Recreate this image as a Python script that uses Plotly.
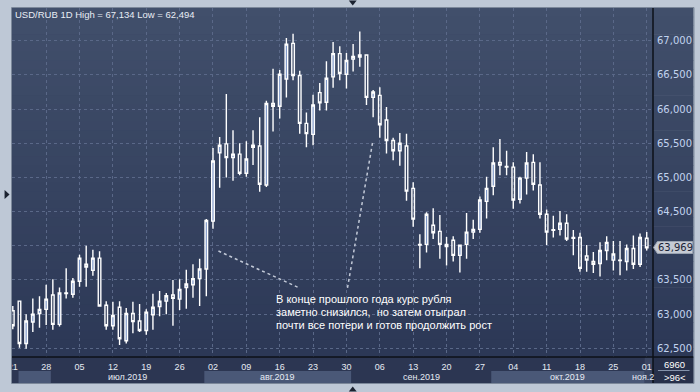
import plotly.graph_objects as go
import pandas as pd

# ---------------- data ----------------
dates = pd.bdate_range("2019-06-21", "2019-11-01")  # 96 daily bars

open_ = [63.05, 63.19, 62.57, 62.885, 63.01, 63.07, 63.28, 62.85, 63.30, 63.29,
         63.48, 63.73, 63.64, 63.82, 63.13, 62.83, 63.10, 62.61, 63.01, 62.90,
         62.76, 62.99, 63.11, 63.19, 63.28, 63.22, 63.39, 63.43, 63.52, 63.66,
         64.36, 65.36, 65.49, 65.29, 65.34, 65.06, 65.44, 65.46, 64.89, 66.08,
         66.04, 66.44, 66.96, 66.49, 65.79, 65.63, 66.24, 66.10, 66.47, 66.81,
         66.51, 66.73, 66.76, 66.79, 66.17, 66.20, 65.84, 65.54, 65.39, 65.46,
         64.84, 64.02, 64.02, 64.30, 64.21, 64.02, 64.08, 63.86, 64.02, 64.20,
         64.24, 64.65, 64.87, 65.22, 65.16, 65.15, 64.68, 64.99, 65.22, 64.89,
         64.46, 64.235, 64.24, 64.33, 64.12, 64.12, 63.85, 63.77, 63.74, 63.93,
         63.79, 63.79, 63.77, 63.96, 63.73, 64.11]
high = [63.12, 63.20, 63.00, 63.23, 63.26, 63.43, 63.51, 63.39, 63.67, 63.53,
        63.87, 64.00, 63.94, 63.92, 63.19, 63.18, 63.19, 63.09, 63.18, 63.15,
        63.07, 63.30, 63.34, 63.31, 63.50, 63.51, 63.65, 63.73, 63.81, 64.39,
        65.43, 65.59, 66.22, 65.69, 65.50, 65.53, 65.69, 65.88, 66.12, 66.59,
        66.57, 67.04, 67.10, 66.56, 65.95, 66.21, 66.38, 66.70, 66.98, 66.92,
        66.82, 66.95, 67.134, 66.80, 66.28, 66.32, 66.03, 65.58, 65.65, 65.64,
        64.93, 64.17, 64.49, 64.55, 64.45, 64.13, 64.14, 64.02, 64.48, 64.38,
        64.72, 65.01, 65.44, 65.56, 65.39, 65.22, 65.01, 65.37, 65.34, 65.22,
        64.53, 64.44, 64.51, 64.46, 64.23, 64.19, 64.01, 63.91, 64.05, 64.14,
        64.07, 64.07, 64.02, 64.15, 64.18, 64.20]
low = [62.78, 62.51, 62.494, 62.74, 62.80, 62.84, 62.77, 62.82, 63.23, 63.24,
       63.40, 63.40, 63.56, 63.11, 62.77, 62.77, 62.55, 62.57, 62.72, 62.74,
       62.70, 62.77, 62.97, 63.00, 62.83, 63.06, 63.08, 63.24, 63.12, 63.26,
       64.25, 64.85, 65.00, 64.95, 65.03, 65.01, 65.18, 64.79, 64.86, 65.67,
       65.86, 66.17, 66.42, 65.64, 65.44, 65.47, 65.98, 65.98, 66.31, 66.42,
       66.30, 66.55, 66.62, 66.06, 65.88, 65.58, 65.35, 65.25, 65.17, 64.66,
       64.28, 63.67, 63.90, 64.10, 63.81, 63.71, 63.77, 63.61, 63.81, 64.10,
       64.19, 64.40, 64.74, 65.03, 65.03, 64.54, 64.62, 64.75, 64.81, 64.40,
       64.01, 64.12, 64.15, 64.07, 63.86, 63.62, 63.62, 63.60, 63.55, 63.79,
       63.64, 63.57, 63.64, 63.66, 63.69, 63.93]
close = [62.83, 62.57, 62.90, 63.00, 63.07, 63.22, 62.85, 63.31, 63.31, 63.48,
         63.82, 63.69, 63.82, 63.12, 62.83, 62.98, 62.64, 63.01, 62.89, 62.76,
         63.03, 63.10, 63.19, 63.27, 63.23, 63.36, 63.44, 63.52, 63.66, 64.37,
         65.24, 65.47, 65.29, 65.34, 65.06, 65.27, 65.47, 64.90, 66.08, 66.04,
         66.51, 66.95, 66.49, 65.79, 65.64, 66.06, 66.09, 66.45, 66.81, 66.52,
         66.71, 66.77, 66.79, 66.17, 66.25, 65.77, 65.54, 65.39, 65.50, 64.80,
         64.39, 64.01, 64.46, 64.19, 64.02, 63.99, 63.86, 64.01, 64.20, 64.24,
         64.67, 64.84, 65.21, 65.18, 65.15, 64.67, 64.99, 65.21, 64.90, 64.46,
         64.20, 64.228, 64.33, 64.10, 64.11, 63.67, 63.79, 63.73, 63.93, 64.05,
         63.88, 63.785, 63.96, 63.73, 64.12, 63.969]

y_ticks = [62.5, 63.0, 63.5, 64.0, 64.5, 65.0, 65.5, 66.0, 66.5, 67.0]
month_names = {6: "июн.2019", 7: "июл.2019", 8: "авг.2019", 9: "сен.2019",
               10: "окт.2019", 11: "ноя.2019"}
title_text = "USD/RUB 1D High = 67,134 Low = 62,494"
note_lines = ["В конце прошлого года курс рубля",
              "заметно снизился,  но затем отыграл",
              "почти все потери и готов продолжить рост"]
last_price_text = "63,969"
corner_top, corner_bottom = "6960", ">96<"

# ---------------- geometry helpers (pixels -> paper) ----------------
W, H = 700, 392
PL, PR, PT, PB = 8, 657, 8, 357


def X(p):
    return (p - PL) / (PR - PL)


def Y(p):
    return (PB - p) / (PB - PT)


x_idx = list(range(len(dates)))
fridays = [i for i, d in enumerate(dates) if d.weekday() == 4]
fri_text = [dates[i].strftime("%d") for i in fridays]
# the last-price marker covers the nearest axis label
y_text = ["" if abs(v - close[-1]) < 0.15 else ("%.3f" % v).replace(".", ",")
          for v in y_ticks]

fig = go.Figure(go.Candlestick(
    x=x_idx, open=open_, high=high, low=low, close=close,
    increasing=dict(fillcolor="#7d97c8", line=dict(color="#ffffff", width=1.4)),
    decreasing=dict(fillcolor="rgba(0,0,0,0)", line=dict(color="#ffffff", width=1.4)),
    whiskerwidth=0, hoverinfo="skip", showlegend=False,
))

shapes = []
# vertical gradient of the panel background
top_c, bot_c = (65, 79, 107), (44, 56, 86)
N = 40
for k in range(N):
    t = (k + 0.5) / N
    c = tuple(round(top_c[j] + (bot_c[j] - top_c[j]) * t) for j in range(3))
    y0 = PT + (PB - PT) * k / N
    y1 = PT + (PB - PT) * (k + 1) / N + 0.6
    shapes.append(dict(type="rect", xref="paper", yref="paper", layer="below",
                       x0=X(PL), x1=X(698), y0=Y(y1), y1=Y(y0),
                       fillcolor="rgb(%d,%d,%d)" % c, line=dict(width=0)))
# date rows
shapes.append(dict(type="rect", xref="paper", yref="paper", layer="below",
                   x0=X(PL), x1=X(698), y0=Y(383), y1=Y(PB),
                   fillcolor="#2c3652", line=dict(width=0)))
# month bands (alternating)
month_first = {}
for i, d in enumerate(dates):
    month_first.setdefault(d.month, i)
months = sorted(month_first)
band_edges = []
for mi, m in enumerate(months):
    s = month_first[m] - 0.3 if mi > 0 else 0.86
    e = month_first[months[mi + 1]] - 0.3 if mi + 1 < len(months) else 95.94
    band_edges.append((m, s, e))
for k, (m, s, e) in enumerate(band_edges):
    if k % 2 == 0 and m != 11:
        shapes.append(dict(type="rect", xref="x", yref="paper", layer="below",
                           x0=s, x1=e, y0=Y(383), y1=Y(371),
                           fillcolor="#4a5877", line=dict(width=0)))
    if m == 11:
        shapes.append(dict(type="rect", xref="x", yref="paper", layer="below",
                           x0=s, x1=e, y0=Y(383), y1=Y(PB),
                           fillcolor="#3a4562", line=dict(width=0)))
# bottom-right cell
shapes.append(dict(type="rect", xref="paper", yref="paper", layer="below",
                   x0=X(PR), x1=X(698), y0=Y(383), y1=Y(PB),
                   fillcolor="#27304a", line=dict(width=0)))
shapes.append(dict(type="line", xref="paper", yref="paper", layer="above",
                   x0=X(662), x1=X(694), y0=Y(370.5), y1=Y(370.5),
                   line=dict(color="#8492aa", width=1)))
# axis lines
shapes.append(dict(type="line", xref="paper", yref="paper", layer="above",
                   x0=X(PL), x1=X(698), y0=Y(PB), y1=Y(PB),
                   line=dict(color="#0c1018", width=1.5)))
shapes.append(dict(type="line", xref="paper", yref="paper", layer="above",
                   x0=X(PR), x1=X(PR), y0=Y(383), y1=Y(PT),
                   line=dict(color="#0c1018", width=1.5)))
# left frame strip (clips the first date label) and outline
shapes.append(dict(type="rect", xref="paper", yref="paper", layer="above",
                   x0=X(0), x1=X(7.5), y0=Y(392), y1=Y(0),
                   fillcolor="#bec8d6", line=dict(width=0)))
shapes.append(dict(type="rect", xref="paper", yref="paper", layer="above",
                   x0=X(7.5), x1=X(698.5), y0=Y(383.5), y1=Y(7.5),
                   fillcolor="rgba(0,0,0,0)", line=dict(color="#7c889a", width=1)))
# dotted pointer lines of the note
shapes.append(dict(type="line", xref="paper", yref="paper", layer="above",
                   x0=X(217), y0=Y(251), x1=X(299), y1=Y(288),
                   line=dict(color="#c3cad8", width=1.5, dash="dot")))
shapes.append(dict(type="line", xref="paper", yref="paper", layer="above",
                   x0=X(373), y0=Y(143), x1=X(347.5), y1=Y(289),
                   line=dict(color="#c3cad8", width=1.5, dash="dot")))
# last price marker
shapes.append(dict(type="path", xref="paper", yref="paper", layer="above",
                   path="M %f,%f L %f,%f L %f,%f L %f,%f L %f,%f Z" % (
                       X(657.5), Y(247.5), X(661.5), Y(241.5), X(697), Y(241.5),
                       X(697), Y(253.5), X(661.5), Y(253.5)),
                   fillcolor="#c6cbd4", line=dict(color="#9aa3b2", width=1)))
# small frame triangles
for pth in [
    (X(349), Y(0.5), X(357), Y(0.5), X(353), Y(5.5)),
    (X(349), Y(391.5), X(357), Y(391.5), X(353), Y(386.5)),
    (X(0.5), Y(190), X(0.5), Y(199), X(5.5), Y(194.5)),
]:
    shapes.append(dict(type="path", xref="paper", yref="paper", layer="above",
                       path="M %f,%f L %f,%f L %f,%f Z" % pth,
                       fillcolor="#1b2230", line=dict(width=0)))

annotations = [
    dict(text=title_text, x=X(9), y=Y(15), xanchor="left", yanchor="middle",
         font=dict(family="Liberation Sans", size=9.5, color="#e8edf5")),
    dict(text=last_price_text, x=X(660), y=Y(247.5), xanchor="left", yanchor="middle",
         font=dict(family="DejaVu Sans", size=10, color="#1a2336")),
    dict(text=corner_top, x=X(679), y=Y(364.5), xanchor="center", yanchor="middle",
         font=dict(family="Liberation Sans", size=9.5, color="#ffffff")),
    dict(text=corner_bottom, x=X(679), y=Y(377), xanchor="center", yanchor="middle",
         font=dict(family="Liberation Sans", size=9.5, color="#ffffff")),
]
for k, line in enumerate(note_lines):
    annotations.append(dict(text=line, x=X(273), y=Y(299 + 13.2 * k),
                            xanchor="left", yanchor="middle",
                            font=dict(family="Liberation Sans", size=11, color="#ffffff")))
for m, s, e in band_edges:
    if m == 6:
        continue
    if m == 11:
        annotations.append(dict(text=month_names[m][:5], x=X(634), y=Y(377),
                                xanchor="left", yanchor="middle",
                                font=dict(family="Liberation Sans", size=9, color="#e6ebf3")))
    else:
        annotations.append(dict(text=month_names[m], x=(s + e) / 2, xref="x",
                                y=Y(377), xanchor="center", yanchor="middle",
                                font=dict(family="Liberation Sans", size=9, color="#e6ebf3")))
for a in annotations:
    a.setdefault("xref", "paper")
    a["yref"] = "paper"
    a["showarrow"] = False

grid = dict(showgrid=True, gridcolor="#5a6888", gridwidth=1, griddash="3px,3px",
            zeroline=False, showline=False, ticks="")

fig.update_layout(
    width=W, height=H, autosize=False,
    margin=dict(l=PL, r=W - PR, t=PT, b=H - PB, pad=0),
    paper_bgcolor="#bec8d6", plot_bgcolor="#37425f",
    boxgap=0.45,
    xaxis=dict(range=[-0.12, 95.94], rangeslider=dict(visible=False),
               tickmode="array", tickvals=fridays, ticktext=fri_text,
               tickfont=dict(family="Liberation Sans", size=9, color="#e6ebf3"),
               ticklabelstandoff=3, **grid),
    yaxis=dict(side="right", range=[62.373, 67.478],
               tickmode="array", tickvals=y_ticks, ticktext=y_text,
               tickfont=dict(family="DejaVu Sans", size=10, color="#c2d3ef"),
               ticklabelstandoff=3, **grid),
    shapes=shapes, annotations=annotations,
)

fig.write_html(
    "out.html",
    config={"displayModeBar": False},
    post_script="document.body.style.margin='0px';document.body.style.overflow='hidden';",
)
